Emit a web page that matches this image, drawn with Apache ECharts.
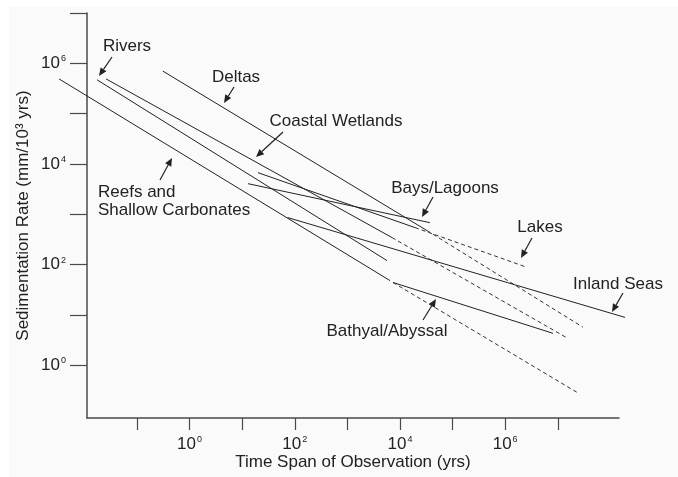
<!DOCTYPE html>
<html>
<head>
<meta charset="utf-8">
<script src="https://cdn.jsdelivr.net/npm/echarts@6/dist/echarts.min.js"></script>
<style>
html,body{margin:0;padding:0;background:#fff;}
#chart{width:678px;height:477px;}
</style>
</head>
<body>
<div id="chart"></div>
<script>
// ---- data (time span in years, sedimentation rate in mm/10^3 yrs) ----
const reefsSpan = [0.0033, 6460];
const reefsRate = [4.9e5, 48];
const riversSpan = [0.0174, 5660];
const riversRate = [4.7e5, 120];
const coastalSpan = [0.0258, 7050];
const coastalRate = [4.9e5, 344];
const coastalExtSpan = [7050, 1.56e7];
const coastalExtRate = [344, 3.4];
const deltasSpan = [0.31, 32600];
const deltasRate = [7.0e5, 474];
const deltasExtSpan = [32600, 3.0e7];
const deltasExtRate = [474, 5.7];
const baysSpan = [12.9, 37000];
const baysRate = [4050, 680];
const lakesSpan = [20, 19300];
const lakesRate = [6700, 543];
const lakesExtSpan = [19300, 2.6e6];
const lakesExtRate = [543, 88];
const inlandSpan = [73, 1.9e8];
const inlandRate = [860, 8.9];
const bathyalSpan = [7360, 8.1e6];
const bathyalRate = [44, 4.3];
const bathyalExtSpan = [7360, 2.3e7];
const bathyalExtRate = [44, 0.29];

// tick exponents
const xTickExp = [-1, 0, 1, 2, 3, 4, 5, 6, 7];
const xLabelExp = [0, 2, 4, 6];
const yTickExp = [0, 1, 2, 3, 4, 5, 6, 7];
const yLabelExp = [0, 2, 4, 6];

const FONT = "'Liberation Sans', Arial, sans-serif";
const INK = '#222';

// visible axis extents (log10) and an identically scaled, wider hidden frame for drawing
const X_MIN = -1.95, X_MAX = 8.164, Y_MIN = -1.05, Y_MAX = 7;
const G_LEFT = 87, G_RIGHT = 59, G_TOP = 13, G_BOTTOM = 59;
const PAD_L = 40, PAD_R = 20;
const PX_PER_DEC = (678 - G_LEFT - G_RIGHT) / (X_MAX - X_MIN);

function pts(xs, ys) {
  return xs.map((x, i) => [Math.log10(x), Math.log10(ys[i])]);
}
function seg(name, xs, ys, dashed) {
  return {
    name: name, type: 'line', data: pts(xs, ys), symbol: 'none', clip: false,
    xAxisIndex: 1, yAxisIndex: 1,
    silent: true, animation: false,
    lineStyle: { color: dashed ? '#333' : INK, width: 1, type: dashed ? [4, 3] : 'solid' }
  };
}
const supRich = {
  b: { fontSize: 17, fontFamily: FONT, color: INK, lineHeight: 18 },
  s: { fontSize: 9, fontFamily: FONT, color: INK, verticalAlign: 'top', lineHeight: 18, padding: [0, 0, 8, 1] }
};
const expFmt = v => '{b|10}{s|' + Math.round(v) + '}';

function arrow(x1, y1, x2, y2) {
  const dx = x2 - x1, dy = y2 - y1, L = Math.sqrt(dx * dx + dy * dy);
  const ux = dx / L, uy = dy / L, hl = 8, hw = 3.5;
  const bx = x2 - ux * hl, by = y2 - uy * hl;
  return [
    { type: 'line', silent: true, shape: { x1: x1, y1: y1, x2: bx, y2: by }, style: { stroke: INK, lineWidth: 1.2 } },
    { type: 'polygon', silent: true, shape: { points: [[x2, y2], [bx - uy * hw, by + ux * hw], [bx + uy * hw, by - ux * hw]] }, style: { fill: INK } }
  ];
}
function label(text, x, y, align) {
  return { type: 'text', silent: true, x: x, y: y,
    style: { text: text, fontSize: 17, fontFamily: FONT, fill: INK, align: align || 'center', verticalAlign: 'middle', lineHeight: 18 } };
}

const graphics = [].concat(
  // faint page frame (white margin at top/left of the scanned figure)
  { type: 'rect', silent: true, z: -10, shape: { x: 0, y: 0, width: 678, height: 7 }, style: { fill: '#fff' } },
  { type: 'rect', silent: true, z: -10, shape: { x: 0, y: 0, width: 9, height: 477 }, style: { fill: '#fff' } },
  label('Rivers', 127, 46), arrow(112, 57, 99, 76),
  label('Deltas', 236, 77), arrow(234, 87, 224, 103),
  label('Coastal Wetlands', 336, 121), arrow(283, 132, 256, 157),
  label('Reefs and\nShallow Carbonates', 98, 201, 'left'), arrow(160, 180, 172, 158),
  label('Bays/Lagoons', 445, 188), arrow(433, 197, 422, 217),
  label('Lakes', 540, 227), arrow(532, 238, 521, 258),
  label('Inland Seas', 618, 284), arrow(623, 293, 612, 312),
  label('Bathyal/Abyssal', 387, 331), arrow(423, 320, 436, 299)
);

const hiddenAxis = { show: false, splitLine: { show: false } };

const chart = echarts.init(document.getElementById('chart'), null, { renderer: 'canvas' });
chart.setOption({
  backgroundColor: '#fafafa',
  animation: false,
  grid: [
    { left: G_LEFT, right: G_RIGHT, top: G_TOP, bottom: G_BOTTOM, containLabel: false, outerBoundsMode: 'none' },
    { left: G_LEFT - PAD_L, right: G_RIGHT - PAD_R, top: G_TOP, bottom: G_BOTTOM, containLabel: false, outerBoundsMode: 'none' }
  ],
  xAxis: [{
    type: 'value', gridIndex: 0, min: X_MIN, max: X_MAX,
    name: 'Time Span of Observation (yrs)', nameLocation: 'middle', nameGap: 36, nameMoveOverlap: false,
    nameTextStyle: { fontSize: 17, fontFamily: FONT, color: INK },
    axisLine: { onZero: false, lineStyle: { color: '#4a4a4a', width: 1.5 } },
    axisTick: { customValues: xTickExp, length: 12, lineStyle: { color: '#4a4a4a', width: 1.2 } },
    axisLabel: { customValues: xLabelExp, margin: 17, formatter: expFmt, rich: supRich },
    splitLine: { show: false }
  }, Object.assign({
    type: 'value', gridIndex: 1,
    min: X_MIN - PAD_L / PX_PER_DEC, max: X_MAX + PAD_R / PX_PER_DEC
  }, hiddenAxis)],
  yAxis: [{
    type: 'value', gridIndex: 0, min: Y_MIN, max: Y_MAX,
    name: 'Sedimentation Rate (mm/10³ yrs)', nameLocation: 'middle', nameGap: 55, nameMoveOverlap: false,
    nameTextStyle: { fontSize: 17, fontFamily: FONT, color: INK },
    axisLine: { onZero: false, lineStyle: { color: '#4a4a4a', width: 1.5 } },
    axisTick: { customValues: yTickExp, length: 17, lineStyle: { color: '#4a4a4a', width: 1.2 } },
    axisLabel: { customValues: yLabelExp, margin: 21, formatter: expFmt, rich: supRich },
    splitLine: { show: false }
  }, Object.assign({
    type: 'value', gridIndex: 1, min: Y_MIN, max: Y_MAX
  }, hiddenAxis)],
  series: [
    seg('Reefs and Shallow Carbonates', reefsSpan, reefsRate, false),
    seg('Rivers', riversSpan, riversRate, false),
    seg('Coastal Wetlands', coastalSpan, coastalRate, false),
    seg('Coastal Wetlands (extrapolated)', coastalExtSpan, coastalExtRate, true),
    seg('Deltas', deltasSpan, deltasRate, false),
    seg('Deltas (extrapolated)', deltasExtSpan, deltasExtRate, true),
    seg('Bays/Lagoons', baysSpan, baysRate, false),
    seg('Lakes', lakesSpan, lakesRate, false),
    seg('Lakes (extrapolated)', lakesExtSpan, lakesExtRate, true),
    seg('Inland Seas', inlandSpan, inlandRate, false),
    seg('Bathyal/Abyssal', bathyalSpan, bathyalRate, false),
    seg('Bathyal/Abyssal (extrapolated)', bathyalExtSpan, bathyalExtRate, true)
  ],
  graphic: graphics
});
</script>
</body>
</html>
